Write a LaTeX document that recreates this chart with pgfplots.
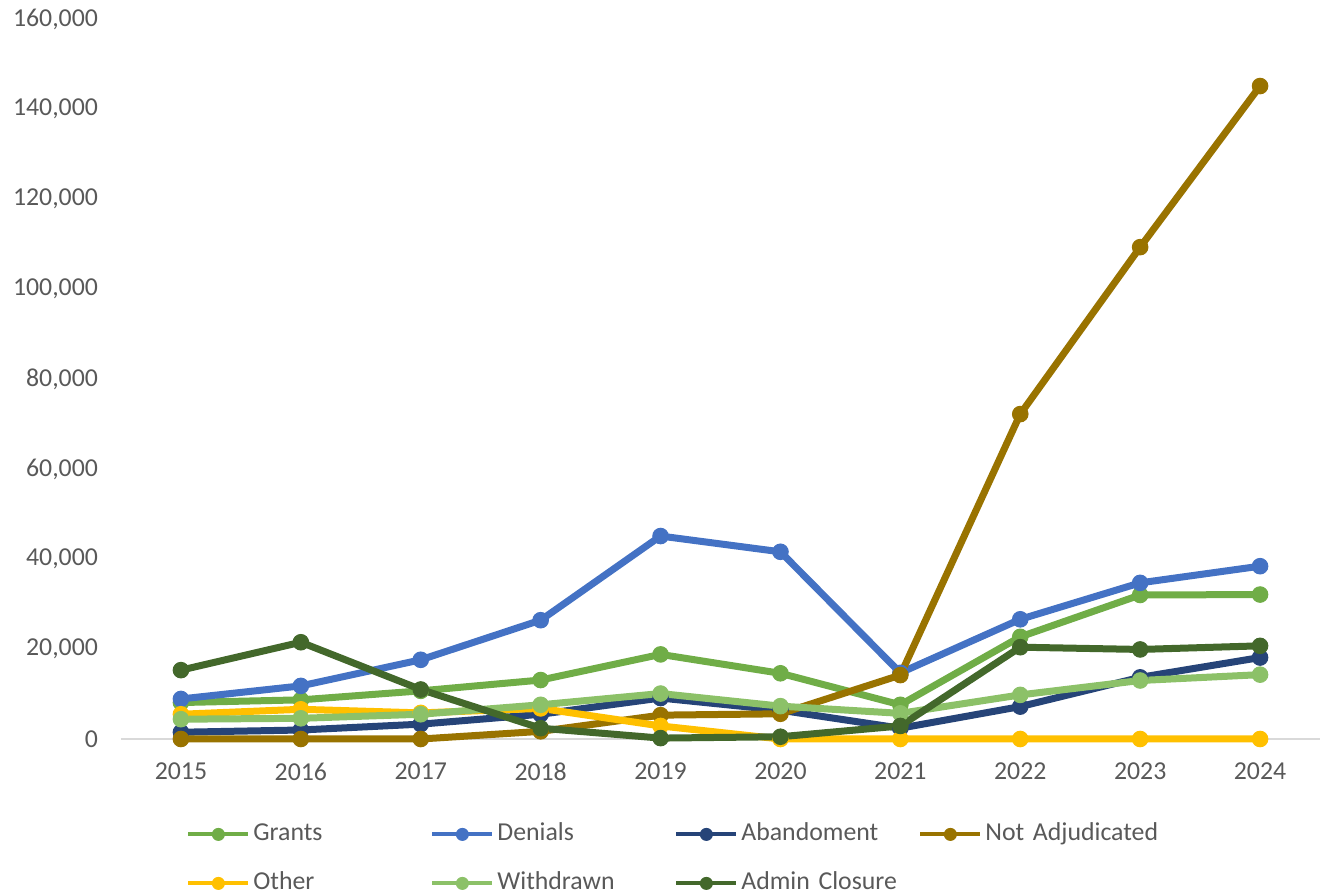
\documentclass[border=0pt]{standalone}
\usepackage{fontspec}
\setmainfont{Carlito}
\usepackage{pgfplots}
\usepackage{pgfplotstable}
\pgfplotsset{compat=1.18}

\definecolor{cgrant}{HTML}{70AD47}
\definecolor{cdeny}{HTML}{4472C4}
\definecolor{cabandon}{HTML}{264478}
\definecolor{cnotadj}{HTML}{997300}
\definecolor{cother}{HTML}{FFC000}
\definecolor{cwithdrawn}{HTML}{8CC168}
\definecolor{cadmin}{HTML}{43682B}
\definecolor{txtgray}{HTML}{595959}
\definecolor{axgray}{HTML}{D9D9D9}

% year index, values per outcome
\pgfplotstableread{
x  grants denials abandon notadj other withdrawn admin
0  8100   8900    1500    0      5500  4400      15300
1  8700   11800   2000    0      6600  4600      21500
2  10700  17600   3300    0      5800  5500      11000
3  13100  26400   5500    1700   6800  7600      2400
4  18800  45100   9100    5300   2900  10100     200
5  14600  41600   6400    5600   0     7300      500
6  7600   14700   2400    14200  0     5700      2900
7  22700  26600   7200    72200  0     9800      20400
8  32000  34700   13700   109300 0     13000     19900
9  32100  38400   18100   145100 0     14300     20700
}\outcomes

\pgfplotsset{
  outcome/.style={color=#1, line width=3.5pt, mark=*, mark size=3.9pt,
    mark options={solid, fill=#1, draw=#1, line width=0.5pt}},
}

\begin{document}
\begin{tikzpicture}
\path[use as bounding box] (-60.5pt,-77.5pt) rectangle (601pt,369.5pt);
\begin{axis}[
  at={(0,0)}, anchor=south west,
  scale only axis, width=599.5pt, height=360pt,
  xmin=-0.5, xmax=9.5, ymin=0, ymax=160000,
  xtick={0,...,9},
  xticklabels={2015,2016,2017,2018,2019,2020,2021,2022,2023,2024},
  ytick={0,20000,...,160000},
  scaled y ticks=false,
  yticklabel style={/pgf/number format/fixed, /pgf/number format/1000 sep={,}, xshift=-8pt},
  /pgf/number format/assume math mode=true,
  axis x line*=bottom, axis y line*=left,
  y axis line style={draw=none},
  x axis line style={draw=axgray, line width=1pt},
  major tick length=0pt,
  tick style={draw=none},
  ticklabel style={font=\fontsize{12.9pt}{15pt}\selectfont, text=txtgray},
  xticklabel style={yshift=-8.5pt},
  clip=false,
  legend columns=4,
  legend style={draw=none, fill=none, inner sep=0pt,
    at={(0.0542,-0.1153)}, anchor=north west,
    font=\fontsize{12.9pt}{15pt}\selectfont, text=txtgray,
    nodes={text width=88.5pt, text height=9pt, text depth=3pt, inner sep=0pt, align=left},
    /tikz/every odd column/.append style={column sep=1.5pt},
    /tikz/row sep=12.5pt},
  legend image code/.code={
    \draw[mark repeat=2, mark phase=2, #1, line width=2pt, mark size=3pt]
      plot coordinates {(0pt,0pt) (15pt,0pt) (30pt,0pt)};},
]
\addplot[outcome=cgrant] table[x=x, y=grants] {\outcomes};
\addplot[outcome=cdeny] table[x=x, y=denials] {\outcomes};
\addplot[outcome=cabandon] table[x=x, y=abandon] {\outcomes};
\addplot[outcome=cnotadj] table[x=x, y=notadj] {\outcomes};
\addplot[outcome=cother] table[x=x, y=other] {\outcomes};
\addplot[outcome=cwithdrawn] table[x=x, y=withdrawn] {\outcomes};
\addplot[outcome=cadmin] table[x=x, y=admin] {\outcomes};
\legend{Grants, Denials, Abandoment, Not Adjudicated, Other, Withdrawn, Admin Closure}
\end{axis}
\end{tikzpicture}
\end{document}
